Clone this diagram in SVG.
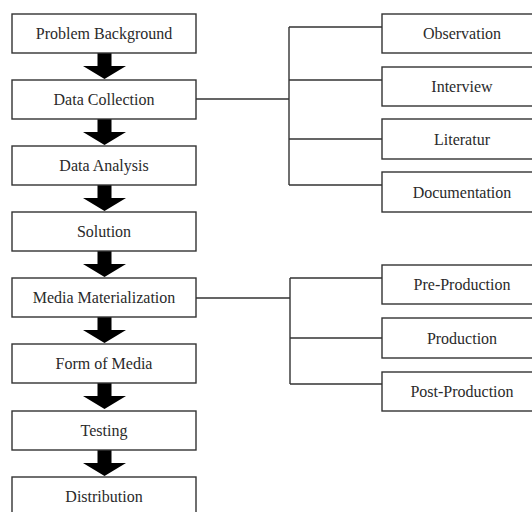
<svg xmlns="http://www.w3.org/2000/svg" width="532" height="512" viewBox="0 0 532 512">
<defs>
<style>
.box{fill:#fff;stroke:#333;stroke-width:1.4}
.lbl{font-family:'Liberation Serif','DejaVu Serif',serif;font-size:16px;fill:#2a2a2a;text-anchor:middle}
.ln{stroke:#333;stroke-width:1.4;fill:none}
.arr{fill:#000}
</style>
<path id="ar" class="arr" d="M-7,0 H7 V13 H21.5 L0,26 L-21.5,13 H-7 Z"/>
</defs>
<rect width="532" height="512" fill="#fff"/>
<g id="connectors">
<use href="#ar" x="104.5" y="53"/>
<use href="#ar" x="104.5" y="119"/>
<use href="#ar" x="104.5" y="185"/>
<use href="#ar" x="104.5" y="251"/>
<use href="#ar" x="104.5" y="317"/>
<use href="#ar" x="104.5" y="383"/>
<use href="#ar" x="104.5" y="450"/>
<path class="ln" d="M196,99 H289 M289,27 V185 M289,27 H382 M289,80 H382 M289,139 H382 M289,185 H382"/>
<path class="ln" d="M196,298 H290 M290,278 V384 M290,278 H382 M290,338 H382 M290,384 H382"/>
</g>
<g id="n-problem"><rect class="box" x="12" y="14" width="184" height="39"/><text class="lbl" x="104" y="39" font-family="Liberation Serif">Problem Background</text></g>
<g id="n-datacollection"><rect class="box" x="12" y="80" width="184" height="39"/><text class="lbl" x="104" y="105">Data Collection</text></g>
<g id="n-dataanalysis"><rect class="box" x="12" y="146" width="184" height="39"/><text class="lbl" x="104" y="171">Data Analysis</text></g>
<g id="n-solution"><rect class="box" x="12" y="212" width="184" height="39"/><text class="lbl" x="104" y="237">Solution</text></g>
<g id="n-media"><rect class="box" x="12" y="278" width="184" height="39"/><text class="lbl" x="104" y="303">Media Materialization</text></g>
<g id="n-form"><rect class="box" x="12" y="344" width="184" height="39"/><text class="lbl" x="104" y="369">Form of Media</text></g>
<g id="n-testing"><rect class="box" x="12" y="411" width="184" height="39"/><text class="lbl" x="104" y="436">Testing</text></g>
<g id="n-distribution"><rect class="box" x="12" y="477" width="184" height="45"/><text class="lbl" x="104" y="502">Distribution</text></g>
<g id="n-observation"><rect class="box" x="382" y="14" width="160" height="39"/><text class="lbl" x="462" y="39">Observation</text></g>
<g id="n-interview"><rect class="box" x="382" y="67" width="160" height="39"/><text class="lbl" x="462" y="92">Interview</text></g>
<g id="n-literatur"><rect class="box" x="382" y="119" width="160" height="40"/><text class="lbl" x="462" y="145">Literatur</text></g>
<g id="n-documentation"><rect class="box" x="382" y="172" width="160" height="40"/><text class="lbl" x="462" y="198">Documentation</text></g>
<g id="n-preproduction"><rect class="box" x="382" y="265" width="160" height="39"/><text class="lbl" x="462" y="290">Pre-Production</text></g>
<g id="n-production"><rect class="box" x="382" y="318" width="160" height="40"/><text class="lbl" x="462" y="344">Production</text></g>
<g id="n-postproduction"><rect class="box" x="382" y="372" width="160" height="39"/><text class="lbl" x="462" y="397">Post-Production</text></g>
</svg>
